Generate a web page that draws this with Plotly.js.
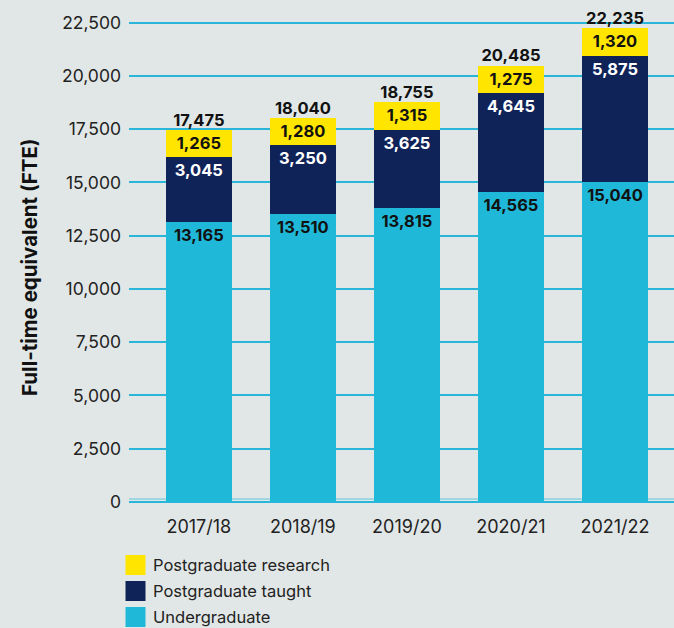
<!DOCTYPE html>
<html>
<head>
<meta charset="utf-8">
<script src="https://cdn.plot.ly/plotly-3.0.1.min.js"></script>
<style>html,body{margin:0;padding:0;background:#e1e7e6;}#chart{width:674px;height:628px;}</style>
</head>
<body>
<div id="chart"></div>
<script>
const categories = ['2017/18', '2018/19', '2019/20', '2020/21', '2021/22'];
const undergraduate = [13165, 13510, 13815, 14565, 15040];
const postgradTaught = [3045, 3250, 3625, 4645, 5875];
const postgradResearch = [1265, 1280, 1315, 1275, 1320];
const totals = [17475, 18040, 18755, 20485, 22235];
const yTickVals = [0, 2500, 5000, 7500, 10000, 12500, 15000, 17500, 20000, 22500];
const seriesNames = ['Undergraduate', 'Postgraduate taught', 'Postgraduate research'];

const colors = { ug: '#20b8d9', pgt: '#0f2359', pgr: '#ffe500' };
const FONT = 'Inter, "Liberation Sans", sans-serif';

const W = 674, H = 628;
const M = { l: 129, r: 0, t: 12, b: 125 };
const PW = W - M.l - M.r, PH = H - M.t - M.b;
const px = x => (x - M.l) / PW;
const py = y => (H - M.b - y) / PH;

function barTrace(name, vals, color, txtColor) {
  return {
    type: 'bar', name: name, x: categories, y: vals,
    marker: { color: color, line: { width: 0 } },
    width: 0.64,
    texttemplate: '%{y:,}',
    textposition: 'inside', insidetextanchor: 'end', textangle: 0,
    constraintext: 'none',
    textfont: { family: FONT, size: 16.5, weight: 700, color: txtColor },
    hoverinfo: 'skip', showlegend: false
  };
}

const traces = [
  barTrace(seriesNames[0], undergraduate, colors.ug, '#111111'),
  barTrace(seriesNames[1], postgradTaught, colors.pgt, '#ffffff'),
  barTrace(seriesNames[2], postgradResearch, colors.pgr, '#111111'),
  {
    type: 'scatter', mode: 'text', x: categories, y: totals,
    texttemplate: '%{y:,}', textposition: 'top center',
    textfont: { family: FONT, size: 16.5, weight: 700, color: '#111111' },
    cliponaxis: false, hoverinfo: 'skip', showlegend: false
  }
];

const legendItems = [
  { name: seriesNames[2], color: colors.pgr },
  { name: seriesNames[1], color: colors.pgt },
  { name: seriesNames[0], color: colors.ug }
];
const shapes = [
  { type: 'line', xref: 'paper', yref: 'paper', layer: 'below',
    x0: 0, x1: 1, y0: py(499), y1: py(499),
    line: { color: '#5cc6e2', width: 1.2 } }
];
const annotations = [];
legendItems.forEach((it, i) => {
  const cy = 565 + i * 26;
  shapes.push({ type: 'rect', xref: 'paper', yref: 'paper',
    x0: px(125.5), x1: px(145.5), y0: py(cy + 10), y1: py(cy - 10),
    fillcolor: it.color, line: { width: 0 } });
  annotations.push({ xref: 'paper', yref: 'paper', x: px(151), y: py(cy),
    xanchor: 'left', yanchor: 'middle', showarrow: false, text: it.name,
    font: { family: FONT, size: 16.5, color: '#222222' } });
});
annotations.push({ xref: 'paper', yref: 'paper', x: px(29), y: py(267),
  xanchor: 'center', yanchor: 'middle', showarrow: false, textangle: -90,
  text: 'Full-time equivalent (FTE)',
  font: { family: FONT, size: 20.5, weight: 700, color: '#111111' } });

const layout = {
  width: W, height: H, margin: M,
  paper_bgcolor: '#e1e7e6', plot_bgcolor: '#e1e7e6',
  barmode: 'stack', showlegend: false,
  font: { family: FONT, color: '#222222' },
  xaxis: {
    type: 'category', range: [-0.671, 4.567], fixedrange: true,
    showgrid: false, zeroline: false, showline: false, ticks: '',
    tickfont: { family: FONT, size: 18, color: '#222222' },
    ticklabelstandoff: 11
  },
  yaxis: {
    range: [-50, 23000], tickvals: yTickVals, tickformat: ',',
    showgrid: true, gridcolor: '#2ab6d9', gridwidth: 2,
    zeroline: true, zerolinecolor: '#2ab6d9', zerolinewidth: 2.5,
    showline: false, ticks: '', ticklabelstandoff: 7,
    tickfont: { family: FONT, size: 17.5, color: '#222222' }
  },
  shapes: shapes, annotations: annotations
};

Plotly.newPlot('chart', traces, layout, { displayModeBar: false, staticPlot: true });
</script>
</body>
</html>
